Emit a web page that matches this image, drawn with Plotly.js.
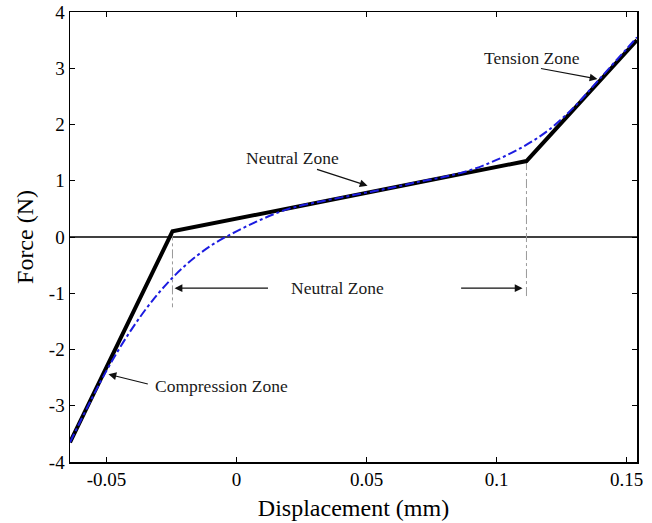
<!DOCTYPE html>
<html>
<head>
<meta charset="utf-8">
<script src="https://cdn.plot.ly/plotly-3.0.1.min.js"></script>
<style>html,body{margin:0;padding:0;background:#fff;}#chart{width:652px;height:523px;}</style>
</head>
<body>
<div id="chart"></div>
<script>
// Piecewise-linear model (black)
var modelX = [-0.064, -0.0246, 0.1115, 0.154];
var modelF = [-3.65, 0.10, 1.35, 3.50];

// Smooth fitted curve (blue dash-dot)
var fitX = [-0.064, -0.05, -0.04, -0.03, -0.02, -0.01, 0, 0.01, 0.02, 0.03, 0.04, 0.05, 0.06, 0.07, 0.08, 0.09, 0.10, 0.11, 0.12, 0.13, 0.14, 0.154];
var fitF = [-3.65, -2.38, -1.62, -1.00, -0.52, -0.16, 0.10, 0.32, 0.50, 0.61, 0.70, 0.79, 0.88, 0.98, 1.07, 1.19, 1.37, 1.60, 1.90, 2.32, 2.83, 3.55];

// Bottom ends of the dashed neutral-zone markers
var markerBottom = [-1.25, -1.05];

var xTicks = [-0.05, 0, 0.05, 0.1, 0.15];
var xTickText = ['-0.05', '0', '0.05', '0.1', '0.15'];
var yTicks = [-4, -3, -2, -1, 0, 1, 2, 3, 4];
var yTickText = ['-4', '-3', '-2', '-1', '0', '1', '2', '3', '4'];

var serif = 'Liberation Serif, Times New Roman, serif';

var traces = [
  {x: [-0.064, 0.154], y: [0, 0], mode: 'lines', line: {color: '#000', width: 1.5}, hoverinfo: 'skip'},
  {x: [modelX[1], modelX[1]], y: [modelF[1], markerBottom[0]], mode: 'lines', line: {color: '#999', width: 1, dash: 'dashdot'}},
  {x: [modelX[2], modelX[2]], y: [modelF[2], markerBottom[1]], mode: 'lines', line: {color: '#999', width: 1, dash: 'dashdot'}},
  {x: modelX, y: modelF, mode: 'lines', line: {color: '#000', width: 4}},
  {x: fitX, y: fitF, mode: 'lines', line: {color: '#1c1ce0', width: 2, dash: 'dashdot', shape: 'spline'}}
];

function arrow(hx, hy, tx, ty) {
  return {x: hx, y: hy, ax: tx, ay: ty, xref: 'x', yref: 'y', axref: 'x', ayref: 'y',
          text: '', showarrow: true, arrowhead: 2, arrowsize: 1.3, arrowwidth: 1.2, arrowcolor: '#111'};
}
function label(x, y, t) {
  return {x: x, y: y, xref: 'x', yref: 'y', text: t, showarrow: false,
          font: {family: serif, size: 17.5, color: '#1a1a1a'}};
}

var layout = {
  width: 652, height: 523,
  margin: {l: 70, r: 15, t: 12, b: 61},
  paper_bgcolor: '#fff', plot_bgcolor: '#fff',
  showlegend: false,
  xaxis: {
    range: [-0.064, 0.154], tickvals: xTicks, ticktext: xTickText,
    ticks: 'inside', ticklen: 5, tickwidth: 1, tickcolor: '#000',
    showline: true, linecolor: '#000', linewidth: 1.5, mirror: 'ticks',
    showgrid: false, zeroline: false, automargin: false,
    tickfont: {family: serif, size: 19, color: '#000'},
    title: {text: 'Displacement (mm)', font: {family: serif, size: 24, color: '#000'}, standoff: 10}
  },
  yaxis: {
    range: [-4, 4], tickvals: yTicks, ticktext: yTickText,
    ticks: 'inside', ticklen: 5, tickwidth: 1, tickcolor: '#000',
    showline: true, linecolor: '#000', linewidth: 1.5, mirror: 'ticks',
    showgrid: false, zeroline: false, automargin: false,
    tickfont: {family: serif, size: 19, color: '#000'},
    title: {text: 'Force (N)', font: {family: serif, size: 24, color: '#000'}, standoff: 8}
  },
  annotations: [
    label(0.0388, -0.91, 'Neutral Zone'),
    arrow(-0.0238, -0.91, 0.0127, -0.91),
    arrow(0.1100, -0.91, 0.0858, -0.91),
    label(0.0215, 1.41, 'Neutral Zone'),
    arrow(0.0504, 0.91, 0.0304, 1.21),
    label(0.1135, 3.19, 'Tension Zone'),
    arrow(0.1388, 2.81, 0.1165, 3.00),
    label(-0.0058, -2.65, 'Compression Zone'),
    arrow(-0.0492, -2.44, -0.0335, -2.62)
  ]
};

Plotly.newPlot('chart', traces, layout, {displayModeBar: false, staticPlot: true});
</script>
</body>
</html>
